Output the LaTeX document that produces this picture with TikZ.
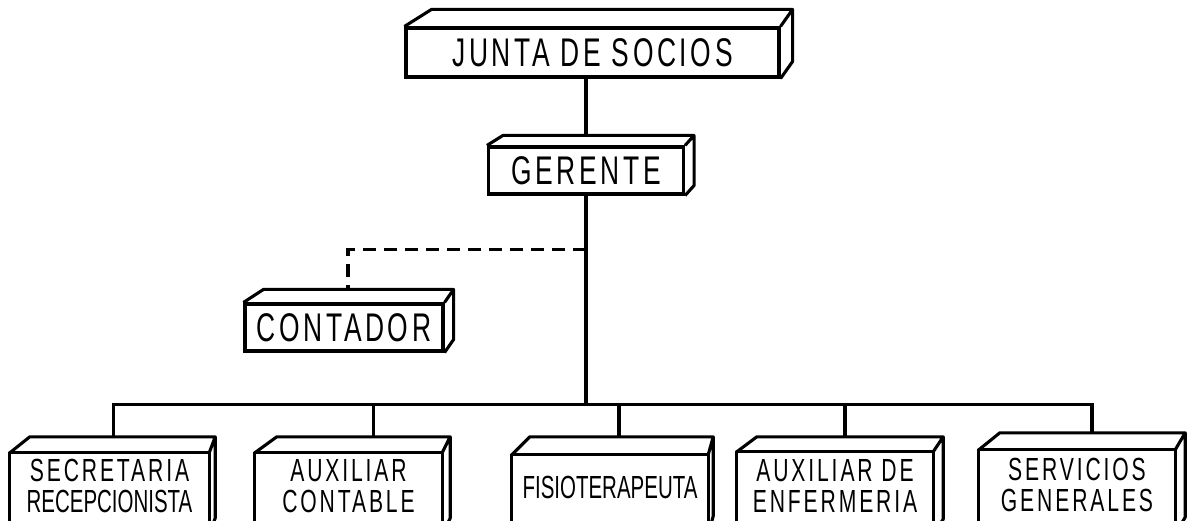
\documentclass[tikz,border=0pt]{standalone}
\usepackage{fontspec}
\newfontfamily\boxfont[FakeStretch=0.66,LetterSpace=9]{Liberation Sans}
\newfontfamily\narrowfont[FakeStretch=0.64]{Liberation Sans}

\tikzset{
  box/.style={rectangle,draw,line width=3.1pt,inner sep=0pt,
    font=\boxfont\fontsize{40}{44}\selectfont},
  lowbox/.style={rectangle,inner sep=0pt,align=center,
    font=\boxfont\fontsize{32}{31}\selectfont},
  link/.style={line width=3.1pt,line cap=rect},
  dashlink/.style={line width=3.1pt,dash pattern=on 13pt off 8pt},
}

% top and side face of a box: node, left depth, right depth, rise, overhang
\newcommand\extrude[5]{%
  \draw[line width=3.1pt,line join=round]
    (#1.north west) -- ++(#2,-#4) -- ([shift={(#3,-#4)}]#1.north east) -- (#1.north east)
    ([shift={(#3,-#4)}]#1.north east) -- ([shift={(#3,#5-#4)}]#1.south east)
    -- ([shift={(0,#5)}]#1.south east);
}
% front of a box that runs off the page
\newcommand\openfront[2]{%
  \draw[line width=3.1pt,line join=round]
    ([yshift=-#2pt]#1.south west) -- (#1.north west) -- (#1.north east)
    -- ([yshift=-#2pt]#1.south east);
}

\begin{document}
\begin{tikzpicture}[x=1pt,y=-1pt]

      \useasboundingbox (0,0) rectangle (1191,521);
      \clip (0,0) rectangle (1191,521);

      \begin{scope}[every node/.style={box}]
        \node[minimum width=373,minimum height=49] (junta)    at (592.5,52.5) {JUNTA DE SOCIOS};
        \node[minimum width=195,minimum height=47] (gerente)  at (586,170.5)  {GERENTE};
        \node[minimum width=198,minimum height=47] (contador) at (344,327.5)  {CONTADOR};
      \end{scope}

      \begin{scope}[every node/.style={lowbox}]
        \node[minimum width=199,minimum height=66] (secretaria)    at (109.5,486) {SECRETARIA\\{\narrowfont RECEPCIONISTA}};
        \node[minimum width=187,minimum height=66] (auxcontable)   at (348.5,486) {AUXILIAR\\CONTABLE};
        \node[minimum width=196,minimum height=64] (fisio)         at (610,487)   {{\narrowfont FISIOTERAPEUTA}};
        \node[minimum width=196,minimum height=67] (auxenfermeria) at (835,485.5) {AUXILIAR DE\\ENFERMERIA};
        \node[minimum width=196,minimum height=69] (servicios)     at (1077,484.5) {SERVICIOS\\GENERALES};
      \end{scope}

      \extrude{junta}{27}{12}{17}{0}
      \extrude{gerente}{16}{9}{10}{0}
      \extrude{contador}{20}{9}{13}{0}
      \foreach \b/\l/\r/\h in {secretaria/20/6/16, auxcontable/22/8/16, fisio/18/5/18,
                               auxenfermeria/20/10/15, servicios/21/10/17} {
        \openfront{\b}{15}
        \extrude{\b}{\l}{\r}{\h}{15}
      }

      \draw[link] ([yshift=10pt]gerente.north) -- (gerente.north |- junta.south);
      \draw[link] (gerente.south) -- ++(0,209) coordinate (bus);
      \path (gerente.south) ++(0,54) coordinate (tap);
      \draw[dashlink] (tap) -| ([shift={(4,-13)}]contador.north);

      \foreach \b/\s/\h in {secretaria/4/16, auxcontable/25/16, fisio/9/18,
                            auxenfermeria/10/15, servicios/15/17}
        \draw[link] ([shift={(\s,-\h)}]\b.north) coordinate (\b-in) -- (\b-in |- bus);
      \draw[link] (secretaria-in |- bus) -- (servicios-in |- bus);

    \end{tikzpicture}
\end{document}
